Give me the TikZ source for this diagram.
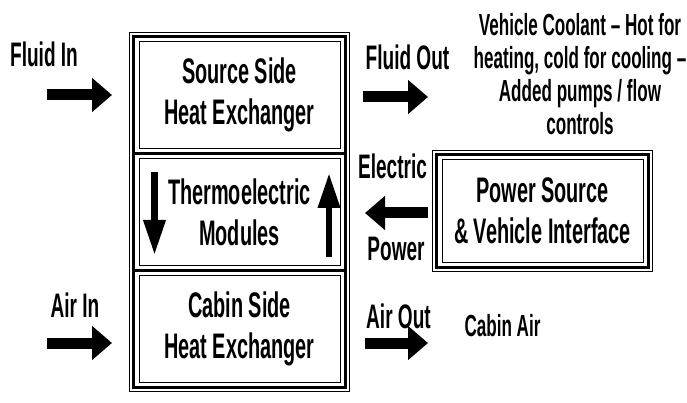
\documentclass[tikz,border=0pt]{standalone}
\usepackage{fontspec}
\setmainfont{Liberation Sans}[FakeStretch=0.56]
\usetikzlibrary{arrows.meta,positioning,fit}

\begin{document}
\begin{tikzpicture}[
  x=1pt, y=-1pt,
  b/.style={draw, line width=1pt, align=center, inner sep=0pt,
            font=\fontsize{35.5}{41}\selectfont\bfseries,
            minimum width=201pt, minimum height=106.7pt},
  frm/.style={draw, line width=1pt, inner sep=9pt},
  lab/.style={font=\fontsize{34}{38}\selectfont\bfseries, inner sep=0pt},
  note/.style={align=center, font=\fontsize{30.5}{33}\selectfont\bfseries, inner sep=0pt},
  arr/.style={line width=11pt, -{Triangle[length=20pt, width=33pt]}},
  tarr/.style={line width=6.5pt, -{Triangle[length=35pt, width=21pt]}}
]
\useasboundingbox (0,0) rectangle (687,403);

% stacked module column
\node[b] (src) at (239.5,95.3) {Source Side\\Heat Exchanger};
\node[b] (mod) at (239.5,212) {Thermoelectric\\Modules};
\node[b] (cab) at (239.5,328.7) {Cabin Side\\Heat Exchanger};
\node[b, minimum height=102pt] (pwr) at (542.5,211) {Power Source\\\& Vehicle Interface};

% heavy frames
\foreach \n in {src,mod,cab,pwr}
  \draw[line width=2.4pt] ([shift={(-5pt,5pt)}]\n.north west) rectangle ([shift={(5pt,-5pt)}]\n.south east);
\node[frm, fit=(src)(cab)] (col) {};
\node[frm, fit=(pwr)] (pwrf) {};

% labels
\node[lab] (fin) at (44,54) {Fluid In};
\node[lab] (fout) at (407.5,57) {Fluid Out};
\node[note] (cool) at (580,74) {Vehicle Coolant -- Hot for\\heating, cold for cooling --\\Added pumps / flow\\controls};
\node[lab] (elec) at (392.5,166) {Electric};
\node[lab] (powr) at (396,249) {Power};
\node[lab] (ain) at (75,305) {Air In};
\node[lab] (aout) at (398.5,316) {Air Out};
\node[note] (cair) at (502.5,326) {Cabin Air};

% arrow ends
\coordinate (fin-t) at (47,95);
\coordinate (fin-h) at (112,95);
\coordinate (fout-t) at (363,97);
\coordinate (fout-h) at (428,97);
\coordinate (ain-t) at (47,343);
\coordinate (ain-h) at (112,343);
\coordinate (aout-t) at (365,343);
\coordinate (aout-h) at (428,343);
\coordinate (elec-t) at (428,213);
\coordinate (elec-h) at (365,213);
\coordinate (dn-t) at (154.5,172);
\coordinate (dn-h) at (154.5,255);
\coordinate (up-t) at (329,257);
\coordinate (up-h) at (329,173);

\draw[arr] (fin-t) -- (fin-h);
\draw[arr] (fout-t) -- (fout-h);
\draw[arr] (ain-t) -- (ain-h);
\draw[arr] (aout-t) -- (aout-h);
\draw[arr] (elec-t) -- (elec-h);
\draw[tarr] (dn-t) -- (dn-h);
\draw[tarr] (up-t) -- (up-h);
\end{tikzpicture}
\end{document}
